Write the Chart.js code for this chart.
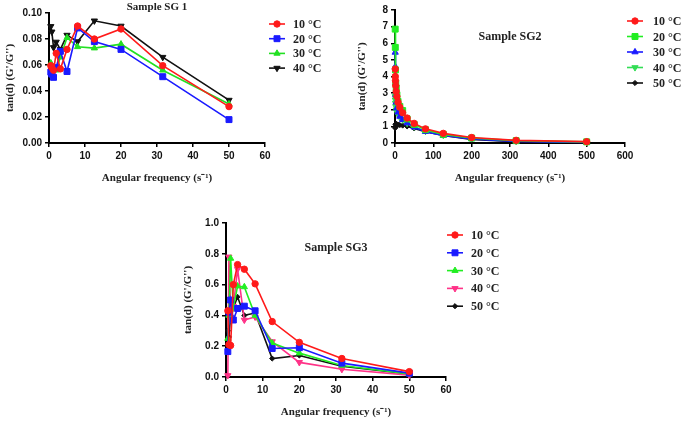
<!DOCTYPE html>
<html><head><meta charset="utf-8">
<script src="https://cdn.jsdelivr.net/npm/chart.js@4.4.1/dist/chart.umd.min.js"></script>
<style>
html,body{margin:0;padding:0;background:#fff;width:685px;height:425px;overflow:hidden}
canvas{position:absolute}
</style></head><body>
<canvas id="sg1" width="340" height="195" style="left:0;top:0"></canvas>
<canvas id="sg2" width="345" height="195" style="left:340px;top:0"></canvas>
<canvas id="sg3" width="330" height="225" style="left:180px;top:200px"></canvas>
<script>
// ---------- data ----------
const sg1Freq = [0.5, 0.79, 1.26, 2, 3.16, 5, 7.94, 12.6, 20, 31.6, 50];
const sg1T10 = [0.0595, 0.058, 0.056, 0.069, 0.057, 0.072, 0.090, 0.080, 0.0877, 0.0595, 0.028];
const sg1T20 = [0.0545, 0.053, 0.0505, 0.058, 0.0705, 0.055, 0.0885, 0.078, 0.072, 0.051, 0.018];
const sg1T30 = [0.0615, 0.059, 0.057, 0.056, 0.066, 0.081, 0.074, 0.073, 0.076, 0.056, 0.030];
const sg1T40 = [0.0897, 0.0855, 0.0735, 0.0777, 0.072, 0.083, 0.078, 0.094, 0.090, 0.066, 0.033];

const sg2Freq = [0.5, 0.79, 1.26, 2, 3.16, 5, 7.94, 12.6, 20, 31.6, 50, 79.4, 126, 200, 316, 500];
const sg2T10 = [4.45, 4.0, 3.75, 3.45, 3.1, 2.8, 2.45, 2.15, 1.82, 1.5, 1.18, 0.85, 0.58, 0.33, 0.16, 0.08];
const sg2T20 = [6.85, 5.75, 4.4, 3.6, 3.3, 2.9, 2.5, 2.2, 1.95, 1.45, 1.12, 0.8, 0.52, 0.3, 0.14, 0.07];
const sg2T30 = [5.45, 4.6, 3.6, 2.9, 2.45, 2.1, 1.85, 1.6, 1.4, 1.2, 0.95, 0.68, 0.45, 0.25, 0.1, 0.04];
const sg2T40 = [2.8, 2.6, 2.4, 2.2, 2.0, 1.85, 1.7, 1.55, 1.4, 1.2, 0.98, 0.72, 0.48, 0.27, 0.12, 0.05];
const sg2T50 = [0.9, 0.95, 1.1, 1.15, 1.15, 1.12, 1.1, 1.08, 1.05, 1.0, 0.88, 0.68, 0.45, 0.22, 0.08, 0.03];

const sg3Freq = [0.5, 0.79, 1.26, 2, 3.16, 5, 7.94, 12.6, 20, 31.6, 50];
const sg3T10 = [0.43, 0.21, 0.205, 0.60, 0.73, 0.70, 0.605, 0.36, 0.225, 0.12, 0.035];
const sg3T20 = [0.165, 0.42, 0.50, 0.37, 0.445, 0.46, 0.43, 0.185, 0.19, 0.09, 0.025];
const sg3T30 = [0.25, 0.40, 0.77, 0.45, 0.59, 0.585, 0.40, 0.22, 0.155, 0.075, 0.02];
const sg3T40 = [0.01, 0.78, 0.42, 0.46, 0.70, 0.37, 0.39, 0.23, 0.095, 0.05, 0.012];
const sg3T50 = [0.30, 0.26, 0.40, 0.45, 0.52, 0.40, 0.415, 0.12, 0.14, 0.07, 0.02];

const tempLabels5 = ['10 °C', '20 °C', '30 °C', '40 °C', '50 °C'];
const tempLabels4 = ['10 °C', '20 °C', '30 °C', '40 °C'];
const xTicks60 = [0, 10, 20, 30, 40, 50, 60];
const xTicks600 = [0, 100, 200, 300, 400, 500, 600];
const sg1YTicks = [0, 0.02, 0.04, 0.06, 0.08, 0.10];
const sg2YTicks = [0, 1, 2, 3, 4, 5, 6, 7, 8];
const sg3YTicks = [0, 0.2, 0.4, 0.6, 0.8, 1.0];
const xTitle = 'Angular frequency (s⁻¹)';
const yTitle = 'tan(d) (G\'/G\'\')';

// ---------- helpers ----------
const pts = (xs, ys) => xs.map((x, i) => ({x: x, y: ys[i]}));

function ds(label, xs, ys, color, style, radius, rot) {
  return {
    label: label, data: pts(xs, ys), borderColor: color, backgroundColor: color,
    pointBackgroundColor: color, pointBorderColor: color, pointStyle: style,
    pointRadius: radius, pointRotation: rot || 0, pointBorderWidth: 1,
    borderWidth: 1.6, tension: 0, clip: false, fill: false
  };
}

const overlay = {
  id: 'overlay',
  afterDraw(chart, args, o) {
    const ctx = chart.ctx;
    ctx.save();
    ctx.fillStyle = '#222';
    ctx.font = 'bold ' + o.titleSize + 'px "Liberation Serif"';
    ctx.textAlign = 'center';
    ctx.textBaseline = 'middle';
    ctx.fillText(o.title, o.titleX, o.titleY);
    chart.data.datasets.forEach((d, i) => {
      const y = o.legY + i * o.legDy;
      ctx.strokeStyle = d.borderColor;
      ctx.lineWidth = 1.6;
      ctx.beginPath(); ctx.moveTo(o.legX, y); ctx.lineTo(o.legX + 16, y); ctx.stroke();
      ctx.fillStyle = d.backgroundColor;
      ctx.lineWidth = 1;
      Chart.helpers.drawPoint(ctx, {pointStyle: d.pointStyle, radius: d.pointRadius, rotation: d.pointRotation, borderWidth: 1}, o.legX + 8, y);
      ctx.fillStyle = '#222';
      ctx.font = 'bold 12px "Liberation Serif"';
      ctx.textAlign = 'left';
      ctx.fillText(d.label, o.textX, y + 1);
    });
    ctx.restore();
  }
};

function scales(xmin, xmax, xt, yt, ymax, dec, yW, xH, yTitlePad) {
  const tickFont = {family: 'Liberation Sans', weight: 'bold', size: 10};
  const titleFont = {family: 'Liberation Serif', weight: 'bold', size: 11};
  return {
    x: {
      type: 'linear', min: xmin, max: xmax,
      afterBuildTicks: s => { s.ticks = xt.map(v => ({value: v})); },
      ticks: {color: '#111', font: tickFont, padding: 3, maxRotation: 0, autoSkip: false},
      grid: {display: true, drawOnChartArea: false, drawTicks: true, tickLength: 4, color: '#000', lineWidth: 1.5},
      border: {display: true, color: '#000', width: 2},
      title: {display: true, text: xTitle, font: titleFont, color: '#222', padding: {top: 0, bottom: 0}},
      afterFit: s => { s.height = xH; }
    },
    y: {
      type: 'linear', min: 0, max: ymax,
      afterBuildTicks: s => { s.ticks = yt.map(v => ({value: v})); },
      ticks: {color: '#111', font: tickFont, padding: 3, autoSkip: false,
              callback: v => Number(v).toFixed(dec)},
      grid: {display: true, drawOnChartArea: false, drawTicks: true, tickLength: 4, color: '#000', lineWidth: 1.5},
      border: {display: true, color: '#000', width: 2},
      title: {display: true, text: yTitle, font: titleFont, color: '#222', padding: {top: yTitlePad, bottom: 0}},
      afterFit: s => { s.width = yW; }
    }
  };
}

function make(id, datasets, sc, padding, ov) {
  return new Chart(document.getElementById(id), {
    type: 'line',
    data: {datasets: datasets},
    options: {
      responsive: false, animation: false, devicePixelRatio: 1,
      layout: {padding: padding},
      scales: sc,
      plugins: {legend: {display: false}, tooltip: {enabled: false}, overlay: ov}
    },
    plugins: [overlay]
  });
}

// ---------- SG1 ----------
make('sg1', [
  ds(tempLabels4[0], sg1Freq, sg1T10, '#ff1a1a', 'circle', 3.2),
  ds(tempLabels4[1], sg1Freq, sg1T20, '#1a1aff', 'rect', 4.2),
  ds(tempLabels4[2], sg1Freq, sg1T30, '#22e022', 'triangle', 3.6),
  ds(tempLabels4[3], sg1Freq, sg1T40, '#111111', 'triangle', 3.6, 180)
], scales(0, 60, xTicks60, sg1YTicks, 0.10, 2, 49, 42, 4),
  {left: 0, top: 13, right: 75, bottom: 10},
  {title: 'Sample SG 1', titleSize: 11, titleX: 157, titleY: 7, legX: 269, textX: 293, legY: 24, legDy: 14.7});

// ---------- SG2 ----------
make('sg2', [
  ds(tempLabels5[0], sg2Freq, sg2T10, '#ff1a1a', 'circle', 3.2),
  ds(tempLabels5[1], sg2Freq, sg2T20, '#22ee22', 'rect', 4.2),
  ds(tempLabels5[2], sg2Freq, sg2T30, '#1a1aff', 'triangle', 3.6),
  ds(tempLabels5[3], sg2Freq, sg2T40, '#33dd55', 'triangle', 3.6, 180),
  ds(tempLabels5[4], sg2Freq, sg2T50, '#111111', 'rectRot', 2.6)
], scales(0, 600, xTicks600, sg2YTicks, 8, 0, 41, 42, 2),
  {left: 14, top: 10, right: 60, bottom: 10},
  {title: 'Sample SG2', titleSize: 12, titleX: 170, titleY: 37, legX: 287, textX: 313, legY: 21, legDy: 15.5});

// ---------- SG3 ----------
make('sg3', [
  ds(tempLabels5[0], sg3Freq, sg3T10, '#ff1a1a', 'circle', 3.2),
  ds(tempLabels5[1], sg3Freq, sg3T20, '#1a1aff', 'rect', 4.2),
  ds(tempLabels5[2], sg3Freq, sg3T30, '#22ee22', 'triangle', 3.6),
  ds(tempLabels5[3], sg3Freq, sg3T40, '#ff3388', 'triangle', 3.6, 180),
  ds(tempLabels5[4], sg3Freq, sg3T50, '#111111', 'rectRot', 2.6)
], scales(0, 60, xTicks60, sg3YTicks, 1.0, 1, 46, 42, 2),
  {left: 0, top: 23, right: 64, bottom: 6},
  {title: 'Sample SG3', titleSize: 12, titleX: 156, titleY: 48, legX: 267, textX: 291, legY: 35, legDy: 17.8});
</script>
</body></html>
